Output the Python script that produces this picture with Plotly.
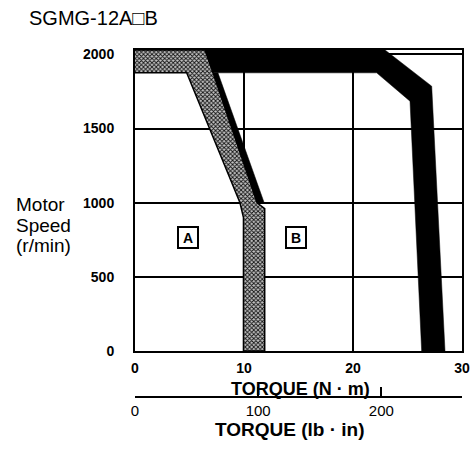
import plotly.graph_objects as go

# Speed-torque characteristic, SGMG-12A□B servomotor
NM_TO_LBIN = 8.8507

x_ticks = [0, 10, 20, 30]
y_ticks = [0, 500, 1000, 1500, 2000]
lbin_ticks = [0, 100, 200]

# Continuous-duty limit (boundary between zone A and zone B), N·m vs r/min
cont_torque = [0, 6.42, 7.16, 11.2, 11.9, 11.9, 9.95, 9.95, 9.63, 4.74, 0]
cont_speed = [2030, 2030, 1876, 1000, 960, 0, 0, 900, 1000, 1876, 1876]

# Dark edge along the continuous-duty limit
edge_torque = [7.16, 7.61, 11.85, 11.2]
edge_speed = [1876, 1876, 1000, 1000]

# Intermittent-duty limit (outer edge of zone B)
peak_torque = [6.42, 22.94, 27.22, 28.44, 26.3, 25.23, 22.17, 7.16]
peak_speed = [2030, 2030, 1786, 0, 0, 1685, 1876, 1876]

# Zone labels
zone_names = ["A", "B"]
zone_torque = [4.86, 14.8]
zone_speed = [763, 763]

FONT = "Liberation Sans, Arial, Helvetica, sans-serif"

fig = go.Figure()

fig.add_trace(go.Scatter(
    x=cont_torque, y=cont_speed, mode="lines", fill="toself",
    fillcolor="#8a8a8a",
    fillpattern=dict(shape="x", fgcolor="#111111", bgcolor="#c4c4c4",
                     size=3, solidity=0.5),
    line=dict(color="black", width=1.5), hoverinfo="skip", showlegend=False,
))
fig.add_trace(go.Scatter(
    x=edge_torque, y=edge_speed, mode="lines", fill="toself",
    fillcolor="black", line=dict(color="black", width=0.5),
    hoverinfo="skip", showlegend=False,
))
fig.add_trace(go.Scatter(
    x=peak_torque, y=peak_speed, mode="lines", fill="toself",
    fillcolor="black", line=dict(color="black", width=0.5),
    hoverinfo="skip", showlegend=False,
))

annotations = []
for name, tx, sy in zip(zone_names, zone_torque, zone_speed):
    annotations.append(dict(
        x=tx, y=sy, xref="x", yref="y", text=f"<b>{name}</b>",
        showarrow=False, font=dict(family=FONT, size=14, color="black"),
        bordercolor="black", borderwidth=2, borderpad=1,
        width=16, height=17, bgcolor="white",
    ))

# paper coordinates: plot area spans pixels x 135..462, paper y 0..1 spans pixels 397..50
def px_x(p):
    return (p - 135) / 327.0

def px_y(p):
    return (397 - p) / 347.0

annotations += [
    dict(x=px_x(27), y=px_y(18), xref="paper", yref="paper", xanchor="left",
         yanchor="middle", text="SGMG-12A□B", showarrow=False,
         font=dict(family=FONT, size=20, color="black")),
    dict(x=px_x(14), y=px_y(205), xref="paper", yref="paper", xanchor="left",
         yanchor="middle", text="Motor", showarrow=False,
         font=dict(family=FONT, size=19, color="black")),
    dict(x=px_x(14), y=px_y(225), xref="paper", yref="paper", xanchor="left",
         yanchor="middle", text="Speed", showarrow=False,
         font=dict(family=FONT, size=19, color="black")),
    dict(x=px_x(14), y=px_y(245), xref="paper", yref="paper", xanchor="left",
         yanchor="middle", text="(r/min)", showarrow=False,
         font=dict(family=FONT, size=19, color="black")),
    dict(x=px_x(300), y=px_y(389), xref="paper", yref="paper", xanchor="center",
         yanchor="middle", text="<b>TORQUE (N · m)</b>", showarrow=False,
         font=dict(family=FONT, size=18, color="black")),
    dict(x=px_x(290), y=px_y(429), xref="paper", yref="paper", xanchor="center",
         yanchor="middle", text="<b>TORQUE (lb · in)</b>", showarrow=False,
         font=dict(family=FONT, size=19, color="black")),
]

fig.update_layout(
    template="none",
    width=475, height=467,
    margin=dict(l=135, r=13, t=50, b=70, autoexpand=False),
    paper_bgcolor="white", plot_bgcolor="white",
    showlegend=False,
    annotations=annotations,
    xaxis=dict(
        range=[0, 30], tickvals=x_ticks, showgrid=True, gridcolor="black",
        gridwidth=1.5, zeroline=False, showline=True, linecolor="black",
        linewidth=2, mirror=True, ticks="outside", ticklen=3,
        tickcolor="rgba(0,0,0,0)", automargin=False,
        tickfont=dict(family=FONT, size=14, color="black", weight="bold"),
    ),
    yaxis=dict(
        range=[0, 2030], tickvals=y_ticks, domain=[(397 - 351) / 347.0, 1],
        showgrid=True, gridcolor="black", gridwidth=1.5, zeroline=False,
        showline=True, linecolor="black", linewidth=2, mirror=True,
        ticks="outside", ticklen=16, tickcolor="rgba(0,0,0,0)",
        automargin=False,
        tickfont=dict(family=FONT, size=14, color="black", weight="bold"),
    ),
    xaxis2=dict(
        overlaying="x", anchor="free", position=0, side="bottom",
        range=[0, 30 * NM_TO_LBIN],
        tickvals=lbin_ticks + [30 * NM_TO_LBIN],
        ticktext=[str(v) for v in lbin_ticks] + [""],
        showgrid=False, zeroline=False, showline=True, linecolor="black",
        linewidth=2, ticks="inside", ticklen=9, tickwidth=2, tickcolor="black",
        automargin=False,
        tickfont=dict(family=FONT, size=15, color="black"),
    ),
)

# attach an invisible trace so the lb·in axis is drawn
fig.add_trace(go.Scatter(x=[0], y=[0], xaxis="x2", yaxis="y", mode="markers",
                         marker=dict(opacity=0), hoverinfo="skip",
                         showlegend=False))

fig.write_html("out.html")
